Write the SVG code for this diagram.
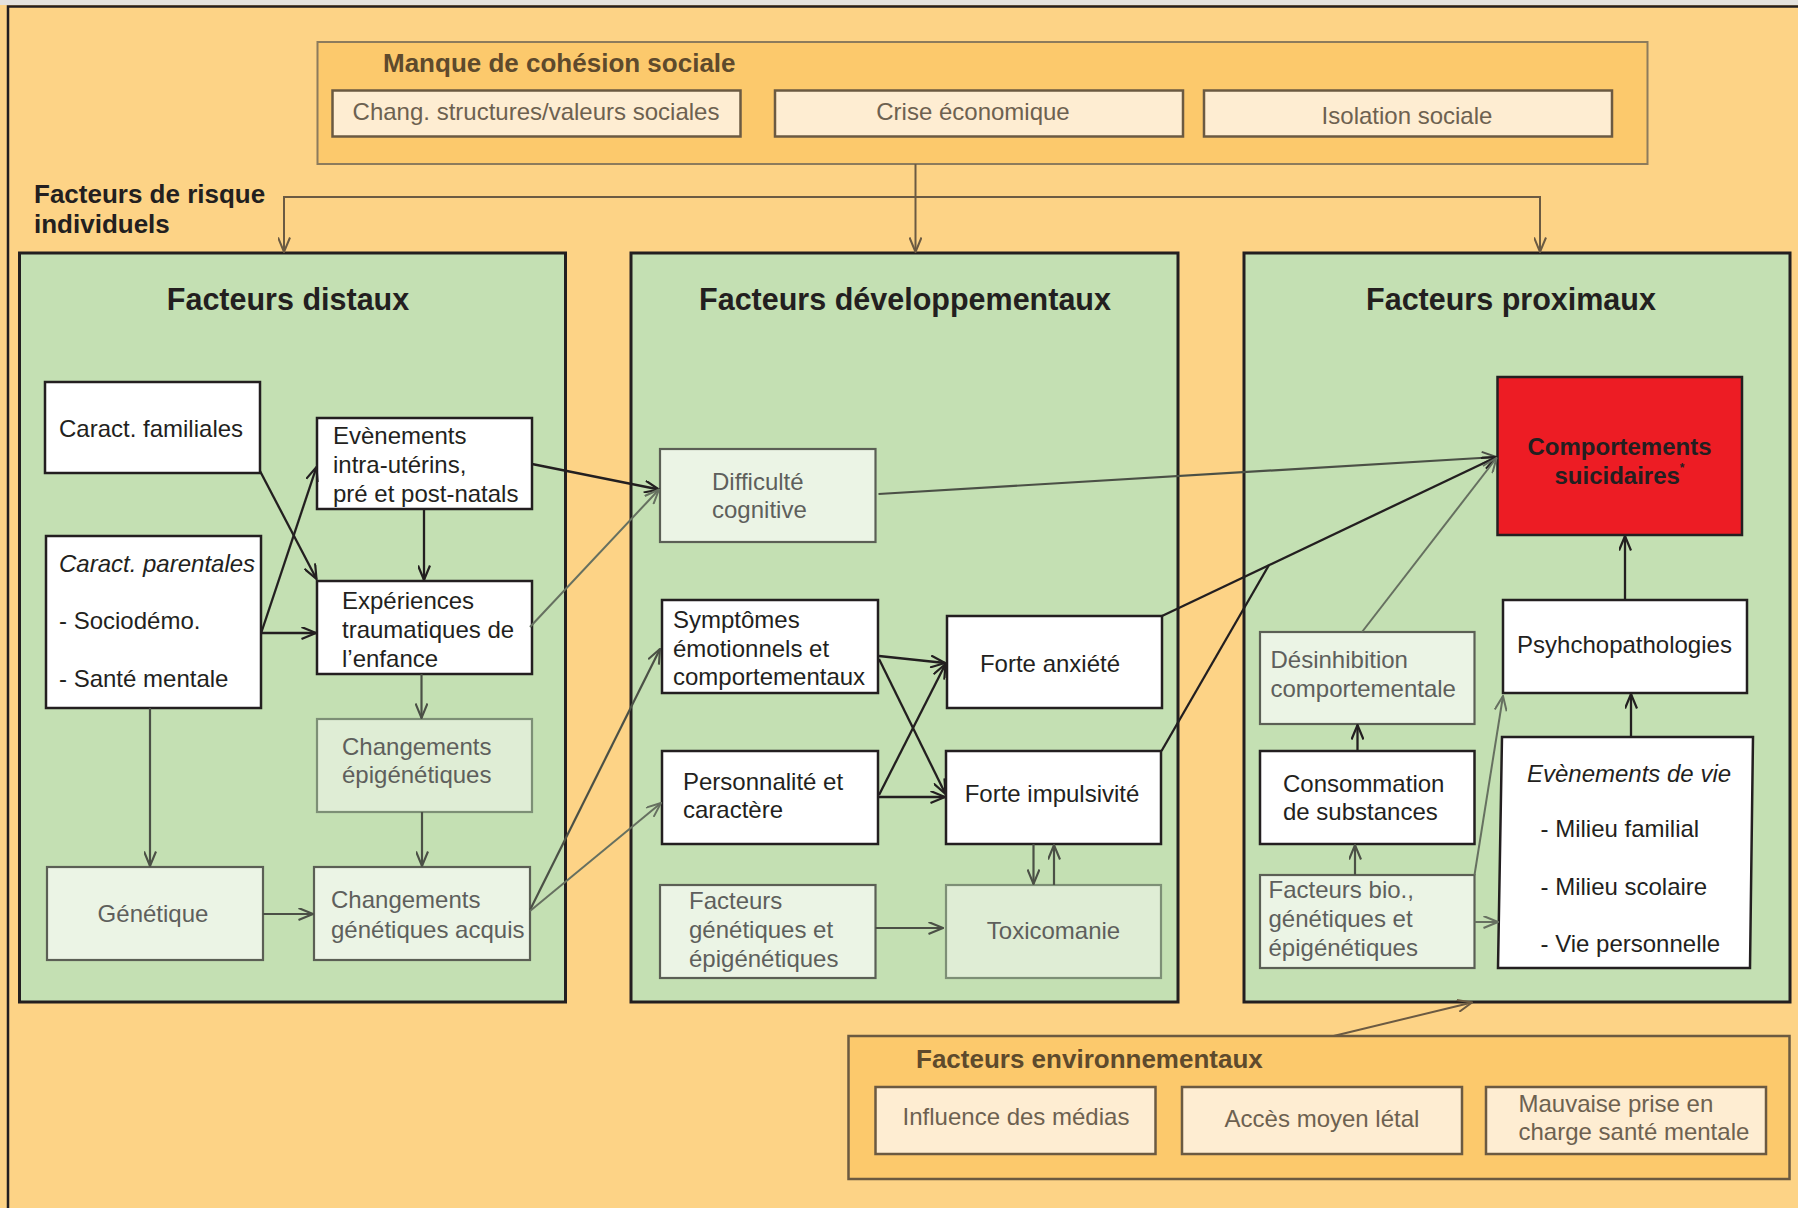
<svg xmlns="http://www.w3.org/2000/svg" width="1798" height="1208" viewBox="0 0 1798 1208">
  <defs>
    <style>
      text { font-family: "Liberation Sans", Arial, sans-serif; font-size: 24px; fill: #231f20; }
      .t-gray { fill: #5e5f5c; }
      .t-brown { fill: #6d6150; }
      .h-panel { font-size: 30.5px; font-weight: bold; text-anchor: middle; }
      .h-group { font-size: 26px; font-weight: bold; fill: #5e4a2c; }
      .h-risk { font-size: 26px; font-weight: bold; }
      .mid { text-anchor: middle; }
      .ital { font-style: italic; }
      .bold { font-weight: bold; }
      .panel { fill: #c4e0b3; stroke: #231f20; stroke-width: 3; }
      .group { fill: #fcc96c; stroke: #8c7b5c; stroke-width: 2; }
      .group-env { fill: #fcc96c; stroke: #6b5a40; stroke-width: 2.5; }
      .cream { fill: #feedd2; stroke: #6b5a42; stroke-width: 2.5; }
      .white { fill: #ffffff; stroke: #231f20; stroke-width: 2.5; }
      .pale { fill: #ebf4e5; stroke: #5b5f55; stroke-width: 2.2; }
      .pale2 { fill: #dfedd5; stroke: #7d8f76; stroke-width: 2.2; }
      .red { fill: #ed1c24; stroke: #231f20; stroke-width: 2.5; }
      .c-blk { fill: none; stroke: #231f20; stroke-width: 2.3; marker-end: url(#ah-blk); }
      .c-dk { fill: none; stroke: #4b5046; stroke-width: 2.2; marker-end: url(#ah-dk); }
      .c-gr { fill: none; stroke: #667060; stroke-width: 2; marker-end: url(#ah-gr); }
      .c-br { fill: none; stroke: #6b5a42; stroke-width: 2; marker-end: url(#ah-br); }
      .c-blk-plain { fill: none; stroke: #231f20; stroke-width: 2.3; }
    </style>
    <marker id="ah-blk" viewBox="0 0 16 13" refX="15" refY="6.5" markerWidth="16" markerHeight="13" markerUnits="userSpaceOnUse" orient="auto">
      <path d="M0.5,0.5 L15,6.5 L0.5,12.5" fill="none" stroke="#231f20" stroke-width="2.2"/>
    </marker>
    <marker id="ah-dk" viewBox="0 0 16 13" refX="15" refY="6.5" markerWidth="16" markerHeight="13" markerUnits="userSpaceOnUse" orient="auto">
      <path d="M0.5,0.5 L15,6.5 L0.5,12.5" fill="none" stroke="#4b5046" stroke-width="2.1"/>
    </marker>
    <marker id="ah-gr" viewBox="0 0 16 13" refX="15" refY="6.5" markerWidth="16" markerHeight="13" markerUnits="userSpaceOnUse" orient="auto">
      <path d="M0.5,0.5 L15,6.5 L0.5,12.5" fill="none" stroke="#667060" stroke-width="2"/>
    </marker>
    <marker id="ah-br" viewBox="0 0 16 13" refX="15" refY="6.5" markerWidth="16" markerHeight="13" markerUnits="userSpaceOnUse" orient="auto">
      <path d="M0.5,0.5 L15,6.5 L0.5,12.5" fill="none" stroke="#6b5a42" stroke-width="2"/>
    </marker>
  </defs>

  <!-- backdrop and frame -->
  <rect x="0" y="0" width="1798" height="1208" fill="#fdd386"/>
  <rect x="0" y="0" width="1798" height="5" fill="#e4e2de"/>
  <path d="M8,1208 V6.5 H1798" fill="none" stroke="#231f20" stroke-width="2.5"/>

  <!-- social cohesion group -->
  <g id="cohesion">
    <rect class="group" x="317.5" y="42" width="1330" height="122"/>
    <text class="h-group" x="383" y="72">Manque de cohésion sociale</text>
  </g>
  <g id="chang-structures">
    <rect class="cream" x="332.5" y="90.5" width="408" height="46"/>
    <text class="t-brown mid" x="536" y="120">Chang. structures/valeurs sociales</text>
  </g>
  <g id="crise-economique">
    <rect class="cream" x="775" y="90.5" width="408" height="46"/>
    <text class="t-brown mid" x="973" y="120">Crise économique</text>
  </g>
  <g id="isolation-sociale">
    <rect class="cream" x="1204" y="90.5" width="408" height="46"/>
    <text class="t-brown mid" x="1407" y="124">Isolation sociale</text>
  </g>

  <g id="risque-individuel">
    <text class="h-risk" x="34" y="203">Facteurs de risque</text>
    <text class="h-risk" x="34" y="233">individuels</text>
  </g>

  <!-- panels -->
  <g id="distaux">
    <rect class="panel" x="19.5" y="253" width="546" height="749"/>
    <text class="h-panel" x="288" y="310">Facteurs distaux</text>
  </g>
  <g id="developpementaux">
    <rect class="panel" x="631" y="253" width="547" height="749"/>
    <text class="h-panel" x="905" y="310">Facteurs développementaux</text>
  </g>
  <g id="proximaux">
    <rect class="panel" x="1244" y="253" width="546" height="749"/>
    <text class="h-panel" x="1511" y="310">Facteurs proximaux</text>
  </g>

  <!-- distal factors -->
  <g id="caract-familiales">
    <rect class="white" x="45" y="382" width="215" height="91"/>
    <text x="59" y="437">Caract. familiales</text>
  </g>
  <g id="evenements-natals">
    <rect class="white" x="317" y="418" width="215" height="91"/>
    <text x="333" y="444">Evènements</text>
    <text x="333" y="473">intra-utérins,</text>
    <text x="333" y="502">pré et post-natals</text>
  </g>
  <g id="caract-parentales">
    <rect class="white" x="46" y="536" width="215" height="172"/>
    <text class="ital" x="59" y="572">Caract. parentales</text>
    <text x="59" y="629">- Sociodémo.</text>
    <text x="59" y="687">- Santé mentale</text>
  </g>
  <g id="experiences-traumatiques">
    <rect class="white" x="317" y="581" width="215" height="93"/>
    <text x="342" y="609">Expériences</text>
    <text x="342" y="638">traumatiques de</text>
    <text x="342" y="667">l’enfance</text>
  </g>
  <g id="changements-epigenetiques">
    <rect class="pale2" x="317" y="719" width="215" height="93"/>
    <text class="t-gray" x="342" y="755">Changements</text>
    <text class="t-gray" x="342" y="783">épigénétiques</text>
  </g>
  <g id="genetique">
    <rect class="pale" x="47" y="867" width="216" height="93"/>
    <text class="t-gray mid" x="153" y="922">Génétique</text>
  </g>
  <g id="changements-genetiques">
    <rect class="pale" x="314" y="867" width="216" height="93"/>
    <text class="t-gray" x="331" y="908">Changements</text>
    <text class="t-gray" x="331" y="938">génétiques acquis</text>
  </g>

  <!-- developmental factors -->
  <g id="difficulte-cognitive">
    <rect class="pale" x="660" y="449" width="215.5" height="93"/>
    <text class="t-gray" x="712" y="490">Difficulté</text>
    <text class="t-gray" x="712" y="518">cognitive</text>
  </g>
  <g id="symptomes">
    <rect class="white" x="662" y="600" width="216" height="93"/>
    <text x="673" y="628">Symptômes</text>
    <text x="673" y="657">émotionnels et</text>
    <text x="673" y="685">comportementaux</text>
  </g>
  <g id="forte-anxiete">
    <rect class="white" x="947" y="616" width="215" height="92"/>
    <text class="mid" x="1050" y="672">Forte anxiété</text>
  </g>
  <g id="personnalite">
    <rect class="white" x="662" y="751" width="216" height="93"/>
    <text x="683" y="790">Personnalité et</text>
    <text x="683" y="818">caractère</text>
  </g>
  <g id="forte-impulsivite">
    <rect class="white" x="946" y="751" width="215" height="93"/>
    <text class="mid" x="1052" y="802">Forte impulsivité</text>
  </g>
  <g id="facteurs-genetiques">
    <rect class="pale" x="660" y="885" width="215.5" height="93"/>
    <text class="t-gray" x="689" y="909">Facteurs</text>
    <text class="t-gray" x="689" y="938">génétiques et</text>
    <text class="t-gray" x="689" y="967">épigénétiques</text>
  </g>
  <g id="toxicomanie">
    <rect class="pale2" x="946" y="885" width="215" height="93"/>
    <text class="t-gray mid" x="1053.5" y="939">Toxicomanie</text>
  </g>

  <!-- proximal factors -->
  <g id="comportements-suicidaires">
    <rect class="red" x="1497.5" y="377" width="244.5" height="158"/>
    <text class="bold mid" x="1619.5" y="455">Comportements</text>
    <text class="bold mid" x="1619.5" y="484">suicidaires<tspan font-size="12" dy="-12">*</tspan></text>
  </g>
  <g id="desinhibition">
    <rect class="pale" x="1260" y="632" width="214.5" height="92"/>
    <text class="t-gray" x="1270.5" y="668">Désinhibition</text>
    <text class="t-gray" x="1270.5" y="697">comportementale</text>
  </g>
  <g id="psychopathologies">
    <rect class="white" x="1503" y="600" width="244" height="93"/>
    <text class="mid" x="1624.5" y="653">Psyhchopathologies</text>
  </g>
  <g id="consommation">
    <rect class="white" x="1260" y="751" width="214.5" height="93"/>
    <text x="1283" y="792">Consommation</text>
    <text x="1283" y="820">de substances</text>
  </g>
  <g id="facteurs-bio">
    <rect class="pale" x="1260" y="875" width="214.5" height="93"/>
    <text class="t-gray" x="1268.5" y="898">Facteurs bio.,</text>
    <text class="t-gray" x="1268.5" y="927">génétiques et</text>
    <text class="t-gray" x="1268.5" y="956">épigénétiques</text>
  </g>
  <g id="evenements-vie">
    <path d="M1502,737 L1753,737 L1750,968 L1498,968 Z" fill="#ffffff" stroke="#231f20" stroke-width="2.5"/>
    <text class="ital mid" x="1629" y="782">Evènements de vie</text>
    <text x="1540.5" y="837">- Milieu familial</text>
    <text x="1540.5" y="895">- Milieu scolaire</text>
    <text x="1540.5" y="952">- Vie personnelle</text>
  </g>

  <!-- environmental group -->
  <g id="environnement">
    <rect class="group-env" x="848.5" y="1036" width="941" height="143"/>
    <text class="h-group" x="916" y="1068">Facteurs environnementaux</text>
  </g>
  <g id="influence-medias">
    <rect class="cream" x="875.5" y="1087" width="280" height="67"/>
    <text class="t-brown mid" x="1016" y="1125">Influence des médias</text>
  </g>
  <g id="acces-moyen">
    <rect class="cream" x="1182" y="1087" width="280" height="67"/>
    <text class="t-brown mid" x="1322" y="1127">Accès moyen létal</text>
  </g>
  <g id="prise-en-charge">
    <rect class="cream" x="1486" y="1087" width="280" height="67"/>
    <text class="t-brown" x="1518.5" y="1112">Mauvaise prise en</text>
    <text class="t-brown" x="1518.5" y="1140">charge santé mentale</text>
  </g>

  <!-- connectors -->
  <g id="connectors">
    <!-- from social cohesion to the three panels -->
    <path class="c-br" d="M915.5,164 V252"/>
    <path class="c-br" d="M915.5,197 H284 V252"/>
    <path class="c-br" d="M915.5,197 H1540 V252"/>

    <!-- distal -->
    <path class="c-blk" d="M260,471 L316.5,579"/>
    <path class="c-blk" d="M261.5,632 L316.5,467"/>
    <path class="c-blk" d="M261.5,633 H316"/>
    <path class="c-blk" d="M424,509 V580"/>
    <path class="c-dk" d="M421.5,674 V718"/>
    <path class="c-dk" d="M422,812 V866"/>
    <path class="c-dk" d="M150,708 V866"/>
    <path class="c-dk" d="M263,914 H313"/>

    <!-- distal to developmental -->
    <path class="c-blk" d="M532,464 L659,489.5"/>
    <path class="c-gr" d="M530,627 L659,489.5"/>
    <path class="c-dk" d="M530,910 L660,649"/>
    <path class="c-gr" d="M530,911 L661,803"/>

    <!-- developmental -->
    <path class="c-blk" d="M879,656 L945,663"/>
    <path class="c-blk" d="M879,659 L945.5,794"/>
    <path class="c-blk" d="M879,795 L945.5,664"/>
    <path class="c-blk" d="M879,797 H945"/>
    <path class="c-dk" d="M1033.5,844 V884"/>
    <path class="c-dk" d="M1054,885 V845"/>
    <path class="c-dk" d="M875.5,928 H943"/>

    <!-- developmental to proximal -->
    <path class="c-dk" d="M878.5,494 L1496.5,457"/>
    <path class="c-blk" d="M1162,616 L1496.5,457"/>
    <path class="c-blk-plain" d="M1161.5,751 L1269,565"/>

    <!-- proximal -->
    <path class="c-gr" d="M1362,632 L1496.5,458"/>
    <path class="c-blk" d="M1625,600 V536"/>
    <path class="c-blk" d="M1631,737 V694"/>
    <path class="c-blk" d="M1357.5,751 V725"/>
    <path class="c-dk" d="M1355,875 V845"/>
    <path class="c-gr" d="M1474.5,875 L1503,696"/>
    <path class="c-gr" d="M1474.5,922 H1498"/>

    <!-- environment to proximal panel -->
    <path class="c-br" d="M1333.5,1036 L1472,1002.5"/>
  </g>
</svg>
